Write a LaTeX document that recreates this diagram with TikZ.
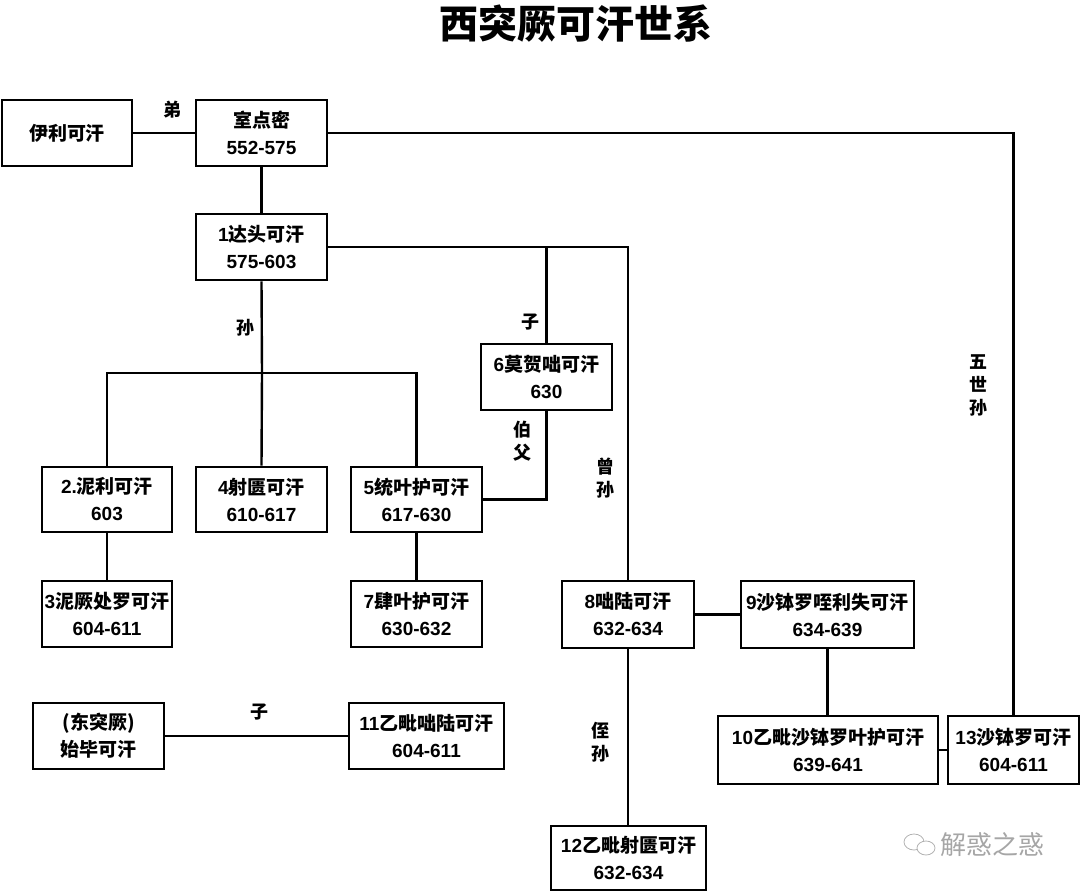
\documentclass[tikz,border=0pt]{standalone}
\usepackage{fontspec}
\newfontfamily\cjk{Noto Sans CJK SC}
\newfontfamily\lat{Liberation Sans}
\newcommand{\bx}[6]{\node[box, minimum width={#4pt-#2pt}, minimum height={#5pt-#3pt}] (#1) at ({(#2+#4)/2},{(#3+#5)/2}) {#6};}
\begin{document}
\begin{tikzpicture}[x=1pt,y=-1pt,
  box/.style={draw, line width=2.6pt, fill=white, inner sep=0pt, align=center,
    font=\cjk\bfseries\fontsize{19}{27}\selectfont},
  link/.style={line width=2.4pt},
  lbl/.style={inner sep=0pt, align=center, font=\cjk\bfseries\fontsize{18}{23}\selectfont}]
\useasboundingbox (0,0) rectangle (1080,892);
\node[inner sep=0pt, font=\cjk\bfseries\fontsize{39}{41}\selectfont] (title) at (576,24) {西突厥可汗世系};
% boxes
\bx{yili}{2}{100}{132}{166}{伊利可汗}
\bx{shidian}{196}{100}{327}{166}{室点密\\{\lat 552-575}}
\bx{datou}{196}{214}{327}{280}{{\lat 1}达头可汗\\{\lat 575-603}}
\bx{mohe}{481}{344}{612}{410}{{\lat 6}莫贺咄可汗\\{\lat 630}}
\bx{nili}{42}{467}{172}{532}{{\lat 2.}泥利可汗\\{\lat 603}}
\bx{shegui}{196}{467}{327}{532}{{\lat 4}射匮可汗\\{\lat 610-617}}
\bx{tong}{351}{467}{482}{532}{{\lat 5}统叶护可汗\\{\lat 617-630}}
\bx{nijue}{42}{581}{172}{647}{{\lat 3}泥厥处罗可汗\\{\lat 604-611}}
\bx{si}{351}{581}{482}{647}{{\lat 7}肆叶护可汗\\{\lat 630-632}}
\bx{duolu}{562}{581}{694}{648}{{\lat 8}咄陆可汗\\{\lat 632-634}}
\bx{shaboluo}{741}{581}{914}{648}{{\lat 9}沙钵罗咥利失可汗\\{\lat 634-639}}
\bx{yipisha}{718}{716}{938}{784}{{\lat 10}乙毗沙钵罗叶护可汗\\{\lat 639-641}}
\bx{sha}{948}{716}{1079}{784}{{\lat 13}沙钵罗可汗\\{\lat 604-611}}
\bx{shibi}{33}{703}{164}{769}{(东突厥)\\始毕可汗}
\bx{yipiduo}{349}{703}{504}{769}{{\lat 11}乙毗咄陆可汗\\{\lat 604-611}}
\bx{yipishe}{551}{826}{706}{890}{{\lat 12}乙毗射匮可汗\\{\lat 632-634}}
% connectors
\draw[link] (yili.east) -- (shidian.west);
\draw[link] (shidian.south) -- (datou.north);
\draw[link] (shidian.east) -| (sha.north);
\draw[link] (datou.east) -| (duolu.north);
\coordinate (mtop) at (mohe.north |- datou.east);
\draw[link] (mtop) -- (mohe.north);
\draw[link] (mohe.south) |- (tong.east);
\coordinate (bar) at (262,373);
\coordinate (barL) at (nili.north |- bar);
\coordinate (barR) at (tong.north |- bar);
\draw[link] (datou.south) -- (bar) -- (shegui.north);
\draw[link] (nili.north) -- (barL) -- (barR) -- (tong.north);
\draw[link] (nili.south) -- (nijue.north);
\draw[link] (tong.south) -- (si.north);
\draw[link] (duolu.east) -- (shaboluo.west |- duolu.east);
\draw[link] (shaboluo.south) -- (yipisha.north -| shaboluo.south);
\draw[link] (yipisha.east) -- (sha.west);
\draw[link] (duolu.south) -- (yipishe.north -| duolu.south);
\draw[link] (shibi.east) -- (yipiduo.west);
% labels
\node[lbl] (l1) at (172,110) {弟};
\node[lbl] (l2) at (530,322) {子};
\node[lbl] (l3) at (245,328) {孙};
\node[lbl] (l4) at (522,441) {伯\\父};
\node[lbl] (l5) at (605,478) {曾\\孙};
\node[lbl] (l6) at (978,385) {五\\世\\孙};
\node[lbl] (l7) at (600,742) {侄\\孙};
\node[lbl] (l8) at (259,712) {子};
% watermark
\node[inner sep=0pt, text=black!35, font=\cjk\fontsize{26}{28}\selectfont] (wm) at (992,845) {解惑之惑};
\draw[black!30, line width=0.8pt] (914,842) ellipse (10pt and 8pt);
\draw[black!30, line width=0.8pt, fill=white] (926,848) ellipse (9pt and 7pt);
\end{tikzpicture}
\end{document}
